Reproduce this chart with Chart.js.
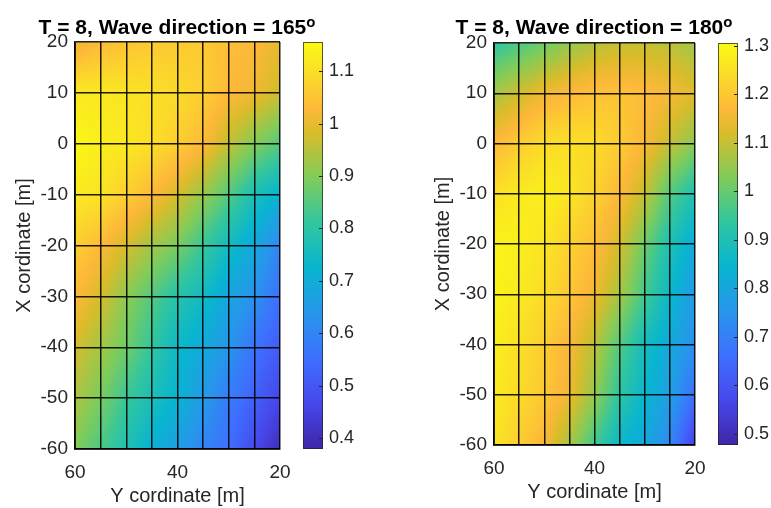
<!DOCTYPE html>
<html>
<head>
<meta charset="utf-8">
<script src="https://cdn.jsdelivr.net/npm/chart.js"></script>
<style>
  body { margin: 0; background: #fff; }
  #wrap { position: relative; width: 771px; height: 508px; overflow: hidden; }
  canvas { position: absolute; top: 0; }
  .ttl { position: absolute; top: 15px; width: 400px; line-height: 21px; text-align: center; white-space: nowrap;
         font: bold 21px "Liberation Sans", Arial, sans-serif; color: #000; }
  .ttl span { font-size: 15px; position: relative; top: -7px; }
</style>
</head>
<body>
<div id="wrap">
  <canvas id="c165" width="385" height="508" style="left:0px"></canvas>
  <canvas id="c180" width="352" height="508" style="left:419px"></canvas>
  <div class="ttl" style="left:-23px">T = 8, Wave direction = 165<span>o</span></div>
  <div class="ttl" style="left:394px">T = 8, Wave direction = 180<span>o</span></div>
</div>
<script>
// grid nodes: horizontal axis is "Y cordinate", vertical axis is "X cordinate"
const yCoords = [60, 55, 50, 45, 40, 35, 30, 25, 20];
const xCoords = [20, 10, 0, -10, -20, -30, -40, -50, -60];
const yTickLabels = [60, 40, 20];

// node values, rows = xCoords (top to bottom), cols = yCoords (left to right)
const field165 = [
  [1.00, 1.03, 1.05, 1.06, 1.06, 1.06, 1.04, 1.03, 1.00],
  [1.12, 1.12, 1.11, 1.10, 1.09, 1.07, 1.03, 1.01, 0.97],
  [1.15, 1.13, 1.12, 1.10, 1.07, 1.03, 0.96, 0.90, 0.85],
  [1.12, 1.11, 1.07, 1.03, 0.98, 0.92, 0.85, 0.77, 0.72],
  [1.07, 1.03, 0.98, 0.93, 0.89, 0.82, 0.75, 0.69, 0.60],
  [1.03, 0.98, 0.91, 0.85, 0.79, 0.75, 0.68, 0.63, 0.55],
  [0.98, 0.93, 0.88, 0.81, 0.74, 0.69, 0.64, 0.56, 0.51],
  [0.94, 0.89, 0.82, 0.77, 0.72, 0.65, 0.58, 0.52, 0.46],
  [0.90, 0.84, 0.78, 0.71, 0.66, 0.60, 0.55, 0.47, 0.40]
];
const field180 = [
  [0.93, 0.97, 1.01, 1.05, 1.08, 1.10, 1.10, 1.09, 1.06],
  [1.07, 1.11, 1.15, 1.17, 1.19, 1.19, 1.18, 1.16, 1.13],
  [1.17, 1.21, 1.24, 1.25, 1.24, 1.21, 1.16, 1.10, 1.04],
  [1.25, 1.27, 1.28, 1.26, 1.22, 1.17, 1.10, 0.98, 0.90],
  [1.29, 1.28, 1.26, 1.22, 1.18, 1.12, 1.01, 0.90, 0.82],
  [1.29, 1.27, 1.24, 1.20, 1.15, 1.07, 0.96, 0.86, 0.76],
  [1.28, 1.25, 1.21, 1.16, 1.09, 0.98, 0.88, 0.81, 0.74],
  [1.27, 1.24, 1.20, 1.15, 1.05, 0.93, 0.85, 0.78, 0.66],
  [1.26, 1.21, 1.16, 1.07, 0.96, 0.86, 0.80, 0.72, 0.55]
];

// colour limits and colorbar ticks
const clim165 = [0.379, 1.156];
const clim180 = [0.477, 1.306];
const cbTicks165 = [0.4, 0.5, 0.6, 0.7, 0.8, 0.9, 1, 1.1];
const cbTicks180 = [0.5, 0.6, 0.7, 0.8, 0.9, 1, 1.1, 1.2, 1.3];

// parula-like colormap
const cmap = [
  [0.000, 62, 38, 168], [0.111, 71, 71, 235], [0.222, 62, 111, 255],
  [0.333, 39, 150, 235], [0.444, 8, 181, 208], [0.556, 49, 198, 159],
  [0.667, 129, 204, 89], [0.778, 218, 188, 42], [0.835, 253, 184, 58],
  [0.889, 252, 207, 48], [1.000, 249, 251, 21]
];

function colorAt(f) {
  f = Math.max(0, Math.min(1, f));
  let i = 0;
  while (i < cmap.length - 2 && f > cmap[i + 1][0]) i++;
  const a = cmap[i], b = cmap[i + 1];
  const t = (f - a[0]) / (b[0] - a[0]);
  return [a[1] + (b[1] - a[1]) * t, a[2] + (b[2] - a[2]) * t, a[3] + (b[3] - a[3]) * t];
}

const FONT = '"Liberation Sans", Arial, sans-serif';
const TXT = '#262626';

const fieldPlugin = {
  id: 'field',
  beforeDatasetsDraw(chart) {
    const o = chart.options.plugins.field;
    const f = o.values, cmin = o.clim[0], cmax = o.clim[1];
    const ctx = chart.ctx, xs = chart.scales.x, ys = chart.scales.y;
    const {left, top, right, bottom} = chart.chartArea;
    const w = Math.round(right - left), h = Math.round(bottom - top);
    const img = ctx.createImageData(w, h);
    for (let py = 0; py < h; py++) {
      const xv = ys.getValueForPixel(top + py + 0.5);
      let r = 0;
      while (r < xCoords.length - 2 && xv < xCoords[r + 1]) r++;
      let tr = (xCoords[r] - xv) / (xCoords[r] - xCoords[r + 1]);
      tr = Math.max(0, Math.min(1, tr));
      for (let px = 0; px < w; px++) {
        const yv = xs.getValueForPixel(left + px + 0.5);
        let c = 0;
        while (c < yCoords.length - 2 && yv < yCoords[c + 1]) c++;
        let tc = (yCoords[c] - yv) / (yCoords[c] - yCoords[c + 1]);
        tc = Math.max(0, Math.min(1, tc));
        const v = (1 - tr) * ((1 - tc) * f[r][c] + tc * f[r][c + 1]) +
                  tr * ((1 - tc) * f[r + 1][c] + tc * f[r + 1][c + 1]);
        const col = colorAt((v - cmin) / (cmax - cmin));
        const k = (py * w + px) * 4;
        img.data[k] = col[0]; img.data[k + 1] = col[1]; img.data[k + 2] = col[2]; img.data[k + 3] = 255;
      }
    }
    ctx.putImageData(img, Math.round(left), Math.round(top));
  },
  afterDraw(chart) {
    // colorbar next to the axes
    const o = chart.options.plugins.field;
    const ctx = chart.ctx, cb = chart.scales.cb;
    const {top, bottom, right} = chart.chartArea;
    const x0 = right + 23, bw = 20;
    for (let y = Math.round(top); y < Math.round(bottom); y++) {
      const col = colorAt((cb.getValueForPixel(y + 0.5) - o.clim[0]) / (o.clim[1] - o.clim[0]));
      ctx.fillStyle = 'rgb(' + col.map(Math.round).join(',') + ')';
      ctx.fillRect(x0, y, bw, 1);
    }
    ctx.strokeStyle = 'rgba(38,38,38,0.75)';
    ctx.lineWidth = 1;
    ctx.strokeRect(x0 + 0.5, Math.round(top) + 0.5, bw - 1, Math.round(bottom - top) - 1);
    ctx.beginPath();
    cb.ticks.forEach(t => {
      const y = Math.round(cb.getPixelForValue(t.value)) + 0.5;
      ctx.moveTo(x0 + bw - 4, y);
      ctx.lineTo(x0 + bw, y);
    });
    ctx.strokeStyle = TXT;
    ctx.stroke();
  }
};

function makePanel(id, values, clim, cbTicks, top, bottom, cbWidth) {
  const H = 508;
  const gridOpts = { color: 'rgba(0,0,0,0.88)', lineWidth: 1.5, drawTicks: false, z: 1 };
  const borderOpts = { color: 'rgba(0,0,0,0.9)', width: 1.8, z: 1 };
  return new Chart(document.getElementById(id), {
    type: 'scatter',
    data: { datasets: [] },
    plugins: [fieldPlugin],
    options: {
      responsive: false,
      animation: false,
      layout: { padding: { top: top, left: 0, right: 0, bottom: H - bottom - 59 } },
      plugins: {
        legend: { display: false },
        tooltip: { enabled: false },
        field: { values: values, clim: clim }
      },
      scales: {
        x: {
          type: 'linear', reverse: true, min: 20, max: 60,
          afterFit: s => { s.height = 59; },
          grid: gridOpts,
          border: borderOpts,
          ticks: {
            stepSize: 5, autoSkip: false, maxRotation: 0, padding: 12,
            color: TXT, font: { family: FONT, size: 19 },
            callback: v => yTickLabels.includes(v) ? String(v) : ''
          },
          title: { display: true, text: 'Y cordinate [m]', color: TXT,
                   font: { family: FONT, size: 20 }, padding: { top: 0, bottom: 0 } }
        },
        y: {
          type: 'linear', min: -60, max: 20,
          afterFit: s => { s.width = 75; s.paddingTop = 0; s.paddingBottom = 0; },
          grid: gridOpts,
          border: borderOpts,
          ticks: {
            stepSize: 10, autoSkip: false, padding: 7,
            color: TXT, font: { family: FONT, size: 19 },
            callback: v => String(v)
          },
          title: { display: true, text: 'X cordinate [m]', color: TXT,
                   font: { family: FONT, size: 20 }, padding: { top: 12, bottom: 0 } }
        },
        cb: {
          type: 'linear', axis: 'y', position: 'right', min: clim[0], max: clim[1],
          afterFit: s => { s.width = cbWidth; s.paddingTop = 0; s.paddingBottom = 0; },
          afterBuildTicks: s => { s.ticks = cbTicks.map(v => ({ value: v })); },
          grid: { display: false, drawTicks: false },
          border: { display: false },
          ticks: { padding: 49, color: TXT, font: { family: FONT, size: 18 }, callback: v => String(v) }
        }
      }
    }
  });
}

makePanel('c165', field165, clim165, cbTicks165, 42, 449, 105);
makePanel('c180', field180, clim180, cbTicks180, 43, 445, 76);
</script>
</body>
</html>
